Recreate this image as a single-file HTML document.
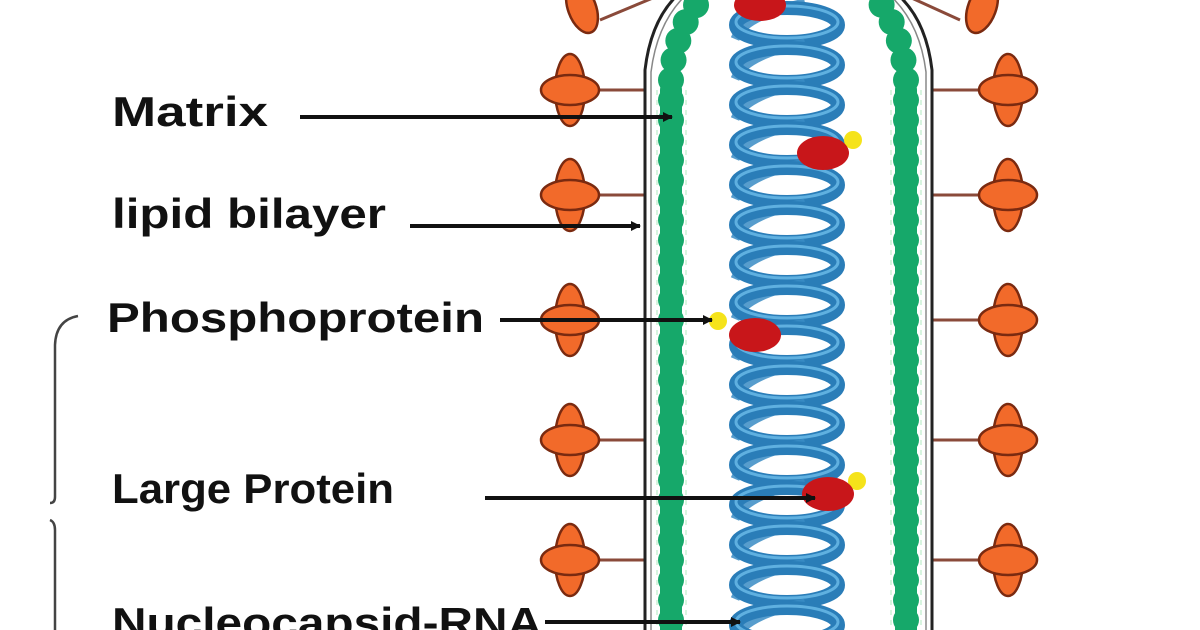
<!DOCTYPE html>
<html><head><meta charset="utf-8"><style>
html,body{margin:0;padding:0;background:#fff;width:1200px;height:630px;overflow:hidden}
text{font-family:"Liberation Sans",sans-serif;font-weight:bold;fill:#111}
</style></head><body>
<svg width="1200" height="630" viewBox="0 0 1200 630" xmlns="http://www.w3.org/2000/svg">
<defs>
<g id="spike">
  <ellipse cx="0" cy="0" rx="15" ry="36" fill="#f26a2a" stroke="#7a2a10" stroke-width="2.5"/>
  <ellipse cx="0" cy="0" rx="29" ry="15" fill="#f26a2a" stroke="#7a2a10" stroke-width="2.5"/>
</g>
<g id="coil">
  <path d="M735 14 Q745 -10 805 -22" fill="none" stroke="#3a8cc4" stroke-width="9" opacity="0.85"/>
  <ellipse cx="787" cy="0" rx="51" ry="17" fill="none" stroke="#2a7db8" stroke-width="14"/>
  <ellipse cx="787" cy="-3" rx="51" ry="16" fill="none" stroke="#5fb0e0" stroke-width="3"/>
</g>
<marker id="ah" markerWidth="10" markerHeight="10" refX="9" refY="5" orient="auto" markerUnits="userSpaceOnUse">
  <path d="M0 0 L10 5 L0 10 Z" fill="#111"/>
</marker>
</defs>

<g stroke="#8a4a3a" stroke-width="3">
  <line x1="590" y1="90" x2="645" y2="90"/><line x1="590" y1="195" x2="645" y2="195"/>
  <line x1="590" y1="320" x2="645" y2="320"/><line x1="590" y1="440" x2="645" y2="440"/>
  <line x1="590" y1="560" x2="645" y2="560"/>
  <line x1="932" y1="90" x2="990" y2="90"/><line x1="932" y1="195" x2="990" y2="195"/>
  <line x1="932" y1="320" x2="990" y2="320"/><line x1="932" y1="440" x2="990" y2="440"/>
  <line x1="932" y1="560" x2="990" y2="560"/>
  <line x1="600" y1="20" x2="660" y2="-5"/><line x1="960" y1="20" x2="905" y2="-5"/>
</g>

<use href="#spike" x="570" y="90"/><use href="#spike" x="570" y="195"/>
<use href="#spike" x="570" y="320"/><use href="#spike" x="570" y="440"/>
<use href="#spike" x="570" y="560"/>
<use href="#spike" x="1008" y="90"/><use href="#spike" x="1008" y="195"/>
<use href="#spike" x="1008" y="320"/><use href="#spike" x="1008" y="440"/>
<use href="#spike" x="1008" y="560"/>
<g transform="translate(582,8) rotate(-20)"><ellipse cx="0" cy="0" rx="14" ry="26" fill="#f26a2a" stroke="#7a2a10" stroke-width="2.5"/></g>
<g transform="translate(982,8) rotate(20)"><ellipse cx="0" cy="0" rx="14" ry="26" fill="#f26a2a" stroke="#7a2a10" stroke-width="2.5"/></g>

<path d="M645 640 L645 70 Q652 10 690 -15" fill="none" stroke="#222" stroke-width="3"/>
<path d="M651 640 L651 72 Q658 16 694 -12" fill="none" stroke="#888" stroke-width="1.5"/>
<path d="M932 640 L932 70 Q925 10 885 -15" fill="none" stroke="#222" stroke-width="3"/>
<path d="M926 640 L926 72 Q919 16 881 -12" fill="none" stroke="#888" stroke-width="1.5"/>

<g fill="none" stroke="#16a86a" stroke-linecap="round">
  <path d="M671 640 L671 80 Q675 30 700 0" stroke-width="26" stroke-dasharray="0 20"/>
  <path d="M671 640 L671 90" stroke-width="22"/>
  <path d="M906 640 L906 80 Q902 30 878 0" stroke-width="26" stroke-dasharray="0 20"/>
  <path d="M906 640 L906 90" stroke-width="22"/>
</g>
<g fill="none" stroke="#d8f5e0" stroke-width="2" stroke-dasharray="5 5">
  <line x1="657" y1="90" x2="657" y2="630"/><line x1="686" y1="90" x2="686" y2="630"/>
  <line x1="891" y1="90" x2="891" y2="630"/><line x1="921" y1="90" x2="921" y2="630"/>
</g>

<use href="#coil" y="25"/><use href="#coil" y="65"/><use href="#coil" y="105"/>
<use href="#coil" y="145"/><use href="#coil" y="185"/><use href="#coil" y="225"/>
<use href="#coil" y="265"/><use href="#coil" y="305"/><use href="#coil" y="345"/>
<use href="#coil" y="385"/><use href="#coil" y="425"/><use href="#coil" y="465"/>
<use href="#coil" y="505"/><use href="#coil" y="545"/><use href="#coil" y="585"/>
<use href="#coil" y="625"/>

<ellipse cx="760" cy="5" rx="26" ry="16" fill="#c8161a"/>
<circle cx="853" cy="140" r="9" fill="#f5e31a"/>
<ellipse cx="823" cy="153" rx="26" ry="17" fill="#c8161a"/>
<circle cx="718" cy="321" r="9" fill="#f5e31a"/>
<ellipse cx="755" cy="335" rx="26" ry="17" fill="#c8161a"/>
<circle cx="857" cy="481" r="9" fill="#f5e31a"/>
<ellipse cx="828" cy="494" rx="26" ry="17" fill="#c8161a"/>

<g stroke="#111" stroke-width="4" marker-end="url(#ah)">
  <line x1="300" y1="117" x2="672" y2="117"/>
  <line x1="410" y1="226" x2="640" y2="226"/>
  <line x1="500" y1="320" x2="712" y2="320"/>
  <line x1="485" y1="498" x2="815" y2="498"/>
  <line x1="545" y1="622" x2="740" y2="622"/>
</g>

<text x="112" y="126" font-size="42" textLength="156" lengthAdjust="spacingAndGlyphs">Matrix</text>
<text x="112" y="228" font-size="42" textLength="274" lengthAdjust="spacingAndGlyphs">lipid bilayer</text>
<text x="107" y="332" font-size="42" textLength="377" lengthAdjust="spacingAndGlyphs">Phosphoprotein</text>
<text x="112" y="503" font-size="42" textLength="282" lengthAdjust="spacingAndGlyphs">Large Protein</text>
<text x="112" y="637" font-size="42" textLength="430" lengthAdjust="spacingAndGlyphs">Nucleocapsid-RNA</text>

<path d="M78 316 Q56 320 55 345 L55 497 Q55 503 50 503 M50 520 Q55 522 55 530 L55 640" fill="none" stroke="#444" stroke-width="2.5"/>
</svg>
</body></html>
